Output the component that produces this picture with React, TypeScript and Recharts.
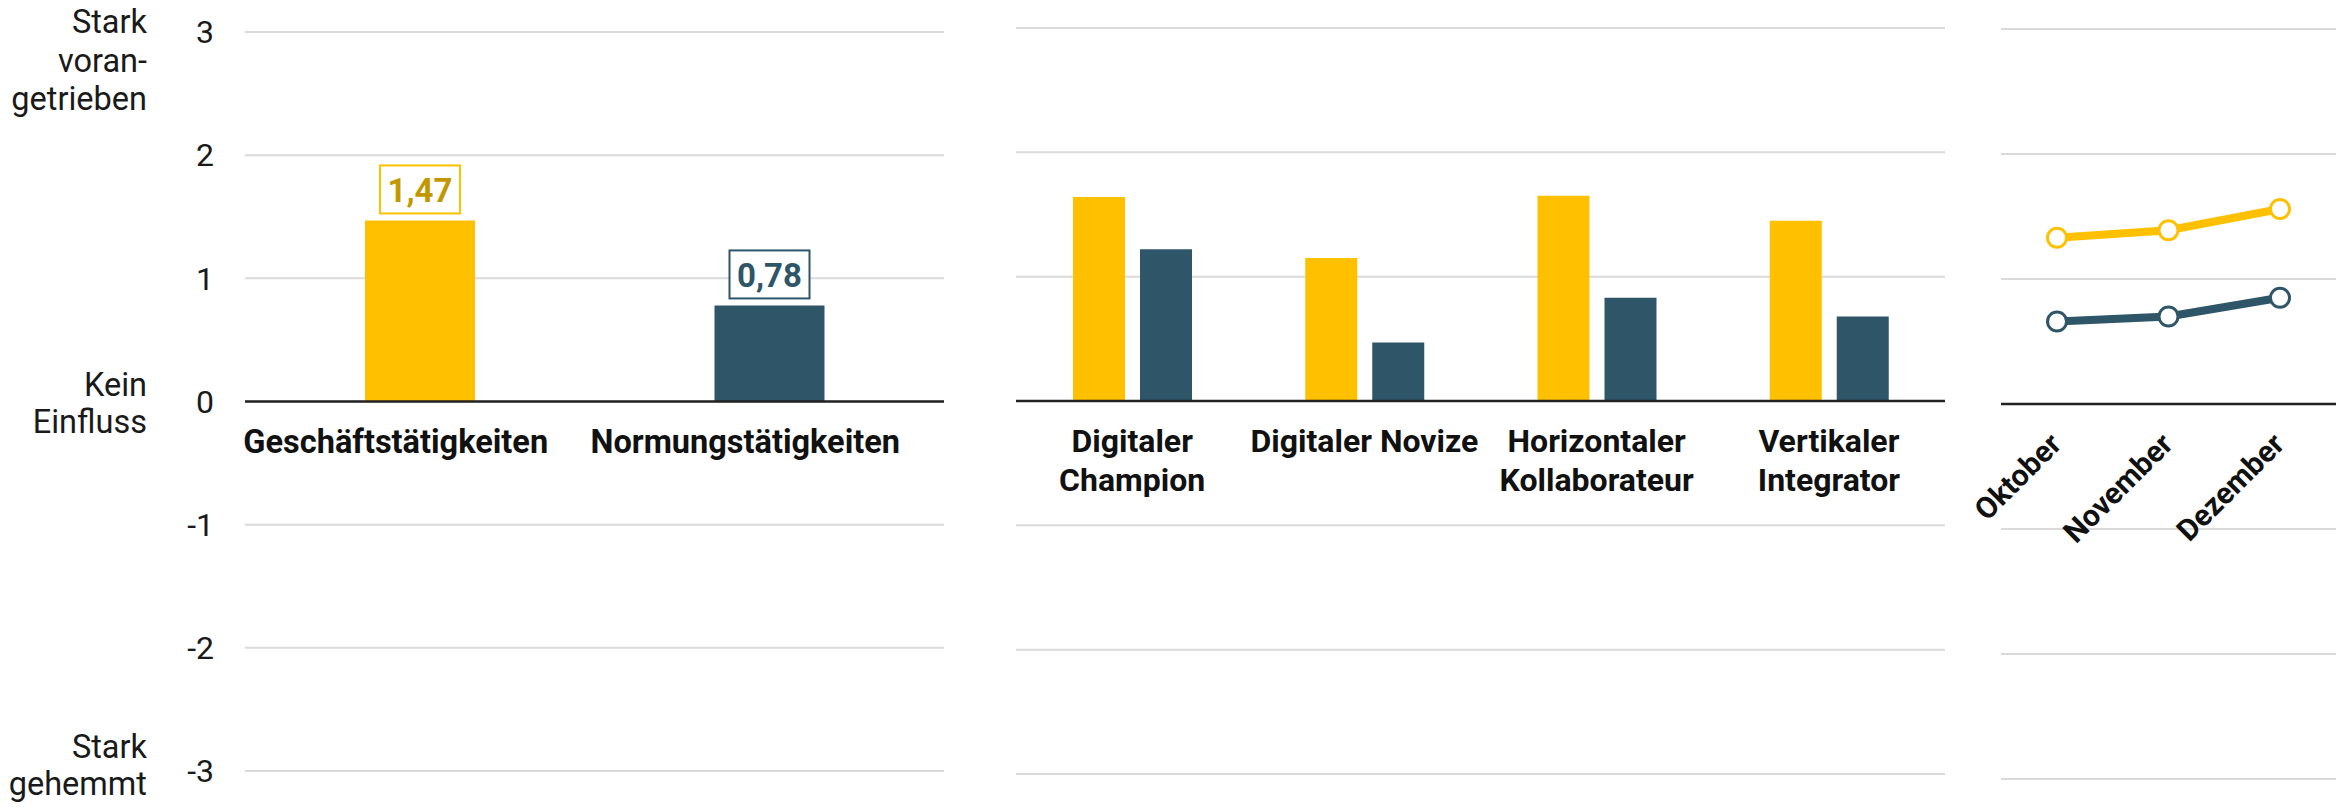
import React from "react";
import {
  BarChart,
  Bar,
  LineChart,
  Line,
  XAxis,
  YAxis,
  CartesianGrid,
  ReferenceLine,
  LabelList,
  Cell,
} from "recharts";

// ── data ─────────────────────────────────────────────────────────────────────
const yTicks = [-3, -2, -1, 0, 1, 2, 3];
const noteTop = ["Stark", "voran-", "getrieben"];
const noteMid = ["Kein", "Einfluss"];
const noteBottom = ["Stark", "gehemmt"];

const activityNames = ["Geschäftstätigkeiten", "Normungstätigkeiten"];
const activityValues = [1.47, 0.78];

const typeNames = [
  "Digitaler\nChampion",
  "Digitaler Novize",
  "Horizontaler\nKollaborateur",
  "Vertikaler\nIntegrator",
];
const typeBusiness = [1.64, 1.15, 1.65, 1.45];
const typeStandards = [1.22, 0.47, 0.83, 0.68];

const months = ["Oktober", "November", "Dezember"];
const monthBusiness = [1.33, 1.39, 1.56];
const monthStandards = [0.66, 0.7, 0.85];

// ── styles ───────────────────────────────────────────────────────────────────
const YELLOW = "#FFC000";
const TEAL = "#2E5668";
const GOLD_TEXT = "#C29800";
const GRID = "#DADADA";
const AXIS = "#222222";
const FONT = "Roboto, 'Noto Sans', sans-serif";
const H = 807;
const activityColors = [YELLOW, TEAL];
const activityText = [GOLD_TEXT, TEAL];

const activityData = activityNames.map((name, i) => ({ name, value: activityValues[i] }));
const typeData = typeNames.map((name, i) => ({
  name,
  business: typeBusiness[i],
  standards: typeStandards[i],
}));
const monthData = months.map((name, i) => ({
  name,
  business: monthBusiness[i],
  standards: monthStandards[i],
}));

// y-axis tick: number plus the verbal scale description
function ScaleTick(props: any) {
  const { x, y, payload } = props;
  const v = payload.value;
  let notes: string[] = [];
  let offs: number[] = [];
  if (v === 3) { notes = noteTop; offs = [1, 40, 78]; }
  if (v === 0) { notes = noteMid; offs = [-6, 31]; }
  if (v === -3) { notes = noteBottom; offs = [-13, 24]; }
  return (
    <g>
      <text x={x} y={y} dy="0.35em" textAnchor="end" fontFamily={FONT} fontSize={32} fill="#1a1a1a">
        {v}
      </text>
      {notes.map((n, i) => (
        <text key={i} x={x - 67} y={y + offs[i]} textAnchor="end" fontFamily={FONT} fontSize={32.5} fill="#1a1a1a">
          {n}
        </text>
      ))}
    </g>
  );
}

// category labels sit under the zero line, not at the bottom of the plot
function CategoryTick(props: any) {
  const { x, y, payload, lift, dx = 0, size = 32 } = props;
  const lines = String(payload.value).split("\n");
  return (
    <text
      x={x + dx}
      y={y - lift}
      textAnchor="middle"
      fontFamily={FONT}
      fontWeight={700}
      fontSize={size}
      fill="#111"
    >
      {lines.map((l, i) => (
        <tspan key={i} x={x + dx} dy={i === 0 ? 0 : 39}>
          {l}
        </tspan>
      ))}
    </text>
  );
}

function MonthTick(props: any) {
  const { x, y, payload, lift } = props;
  const tx = x + 6;
  const ty = y - lift;
  return (
    <text
      x={tx}
      y={ty}
      textAnchor="end"
      transform={`rotate(-45, ${tx}, ${ty})`}
      fontFamily={FONT}
      fontWeight={700}
      fontSize={30}
      fill="#111"
    >
      {payload.value}
    </text>
  );
}

function ValueBox(props: any) {
  const { x, y, width, value, index } = props;
  const cx = x + width / 2;
  const top = y - 7 - 48;
  return (
    <g>
      <rect x={cx - 40} y={top} width={80} height={48} fill="#fff" stroke={activityColors[index]} strokeWidth={2} />
      <text
        x={cx}
        y={top + 37}
        textAnchor="middle"
        fontFamily={FONT}
        fontWeight={700}
        fontSize={33}
        fill={activityText[index]}
      >
        {Number(value).toFixed(2).replace(".", ",")}
      </text>
    </g>
  );
}

export default function App() {
  return (
    <div style={{ position: "absolute", left: 0, top: 0, width: 2336, height: H, background: "#fff" }}>
      {/* ── Panel 1: overall ─────────────────────────────────────── */}
      <div style={{ position: "absolute", left: 0, top: 0 }}>
        <BarChart width={960} height={H} data={activityData} margin={{ top: 32, right: 16, bottom: 6, left: 0 }}>
          <CartesianGrid vertical={false} stroke={GRID} strokeWidth={2} />
          <YAxis
            domain={[-3, 3]}
            ticks={yTicks}
            width={245}
            axisLine={false}
            tickLine={false}
            tickSize={0}
            tickMargin={31}
            tick={(p: any) => <ScaleTick {...p} />}
          />
          <XAxis
            dataKey="name"
            height={30}
            axisLine={false}
            tickLine={false}
            tickSize={0}
            tickMargin={0}
            interval={0}
            tick={(p: any) => <CategoryTick {...p} lift={739 / 2 - 51} dx={-24} size={32.5} />}
          />
          <ReferenceLine y={0} stroke={AXIS} strokeWidth={2.5} />
          <Bar dataKey="value" barSize={110} isAnimationActive={false}>
            {activityData.map((d, i) => (
              <Cell key={d.name} fill={activityColors[i]} />
            ))}
            <LabelList dataKey="value" content={(p: any) => <ValueBox {...p} />} />
          </Bar>
        </BarChart>
      </div>

      {/* ── Panel 2: by digital type ─────────────────────────────── */}
      <div style={{ position: "absolute", left: 960, top: 0 }}>
        <BarChart
          width={1000}
          height={H}
          data={typeData}
          barGap={15}
          margin={{ top: 28, right: 15, bottom: 3, left: 56 }}
        >
          <CartesianGrid vertical={false} stroke={GRID} strokeWidth={2} />
          <YAxis hide domain={[-3, 3]} ticks={yTicks} />
          <XAxis
            dataKey="name"
            height={30}
            axisLine={false}
            tickLine={false}
            tickSize={0}
            tickMargin={0}
            interval={0}
            tick={(p: any) => <CategoryTick {...p} lift={746 / 2 - 51} size={32} />}
          />
          <ReferenceLine y={0} stroke={AXIS} strokeWidth={2.5} />
          <Bar dataKey="business" fill={YELLOW} barSize={52} isAnimationActive={false} />
          <Bar dataKey="standards" fill={TEAL} barSize={52} isAnimationActive={false} />
        </BarChart>
      </div>

      {/* ── Panel 3: by month ────────────────────────────────────── */}
      <div style={{ position: "absolute", left: 1960, top: 0 }}>
        <LineChart width={376} height={H} data={monthData} margin={{ top: 29, right: 0, bottom: 8, left: 41 }}>
          <CartesianGrid vertical={false} stroke={GRID} strokeWidth={2} />
          <YAxis hide domain={[-3, 3]} ticks={yTicks} />
          <XAxis
            dataKey="name"
            height={20}
            padding={{ left: 56, right: 56 }}
            axisLine={false}
            tickLine={false}
            tickSize={0}
            tickMargin={0}
            interval={0}
            tick={(p: any) => <MonthTick {...p} lift={750 / 2 - 42} />}
          />
          <ReferenceLine y={0} stroke={AXIS} strokeWidth={2.5} />
          <Line
            dataKey="business"
            stroke={YELLOW}
            strokeWidth={8}
            dot={{ r: 9.5, fill: "#fff", stroke: YELLOW, strokeWidth: 3 }}
            activeDot={false}
            isAnimationActive={false}
          />
          <Line
            dataKey="standards"
            stroke={TEAL}
            strokeWidth={8}
            dot={{ r: 9.5, fill: "#fff", stroke: TEAL, strokeWidth: 3 }}
            activeDot={false}
            isAnimationActive={false}
          />
        </LineChart>
      </div>
    </div>
  );
}
